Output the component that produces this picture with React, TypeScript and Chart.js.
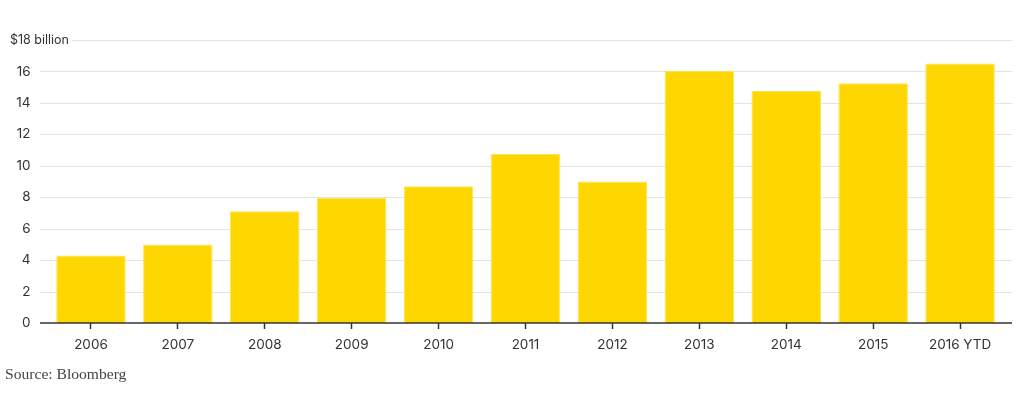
import React, { useEffect, useRef } from "react";
import { Chart, registerables } from "chart.js";

Chart.register(...registerables);

const categories = ["2006", "2007", "2008", "2009", "2010", "2011", "2012", "2013", "2014", "2015", "2016 YTD"];
const values = [4.3, 5.0, 7.1, 7.95, 8.7, 10.75, 9.0, 16.05, 14.75, 15.25, 16.5];
const yTicks = [0, 2, 4, 6, 8, 10, 12, 14, 16, 18];
const topLabel = "$18 billion";
const sourceText = "Source: Bloomberg";

const FONT = "Inter, 'Noto Sans', sans-serif";
const TEXT = "#333333";
const GRID = "#e4e4e8";

const decor = {
  id: "decor",
  beforeDatasetsDraw(chart: any) {
    const { ctx } = chart;
    const y = chart.scales.y;
    ctx.save();
    ctx.strokeStyle = GRID;
    ctx.lineWidth = 1;
    yTicks.forEach((v) => {
      if (v === 0) return;
      const py = Math.round(y.getPixelForValue(v)) + 0.5;
      const x0 = v === 18 ? 72 : 40;
      ctx.beginPath();
      ctx.moveTo(x0, py);
      ctx.lineTo(1012, py);
      ctx.stroke();
    });
    const py18 = y.getPixelForValue(18);
    ctx.fillStyle = TEXT;
    ctx.font = "12.5px " + FONT;
    ctx.textAlign = "left";
    ctx.textBaseline = "middle";
    ctx.fillText(topLabel, 10, py18);
    ctx.restore();
  },
  afterDatasetsDraw(chart: any) {
    const { ctx } = chart;
    const y = chart.scales.y;
    const py = y.getPixelForValue(0);
    ctx.save();
    ctx.strokeStyle = "#333333";
    ctx.lineWidth = 1.5;
    ctx.beginPath();
    ctx.moveTo(40, py);
    ctx.lineTo(1012, py);
    ctx.stroke();
    ctx.restore();
  },
};

export default function App() {
  const ref = useRef<HTMLCanvasElement | null>(null);
  useEffect(() => {
    if (!ref.current) return;
    const chart = new Chart(ref.current, {
      type: "bar",
      data: {
        labels: categories,
        datasets: [
          {
            data: values,
            backgroundColor: "#FFD700",
            borderColor: "#FFE455",
            borderWidth: 1,
            categoryPercentage: 1,
            barPercentage: 0.8,
          },
        ],
      },
      options: {
        animation: false,
        responsive: true,
        maintainAspectRatio: false,
        layout: { padding: { top: 40, right: 20.5, left: 0, bottom: 0 } },
        plugins: { legend: { display: false }, tooltip: { enabled: false } },
        scales: {
          x: {
            grid: {
              display: true,
              drawOnChartArea: false,
              offset: false,
              tickLength: 6,
              tickColor: "#333333",
              tickWidth: 1.5,
            },
            border: { display: false },
            ticks: { color: TEXT, font: { family: FONT, size: 13.5 }, padding: 8 },
            afterFit(scale: any) {
              scale.height = 72;
            },
          },
          y: {
            min: 0,
            max: 18,
            grid: { display: false, drawTicks: false },
            border: { display: false },
            ticks: {
              stepSize: 2,
              color: TEXT,
              font: { family: FONT, size: 13.5 },
              padding: 17,
              callback: (v: any) => (v === 18 ? "" : String(v)),
            },
            afterFit(scale: any) {
              scale.width = 47.5;
            },
          },
        },
      },
      plugins: [decor],
    });
    return () => chart.destroy();
  }, []);
  return (
    <div style={{ position: "fixed", left: 0, top: 0, width: 1024, height: 395, background: "#fff" }}>
      <canvas ref={ref} />
      <div
        style={{
          position: "absolute",
          left: 5,
          top: 366,
          fontFamily: "'Liberation Serif', 'DejaVu Serif', serif",
          fontSize: 15.6,
          lineHeight: "16px",
          color: "#444",
        }}
      >
        {sourceText}
      </div>
    </div>
  );
}
